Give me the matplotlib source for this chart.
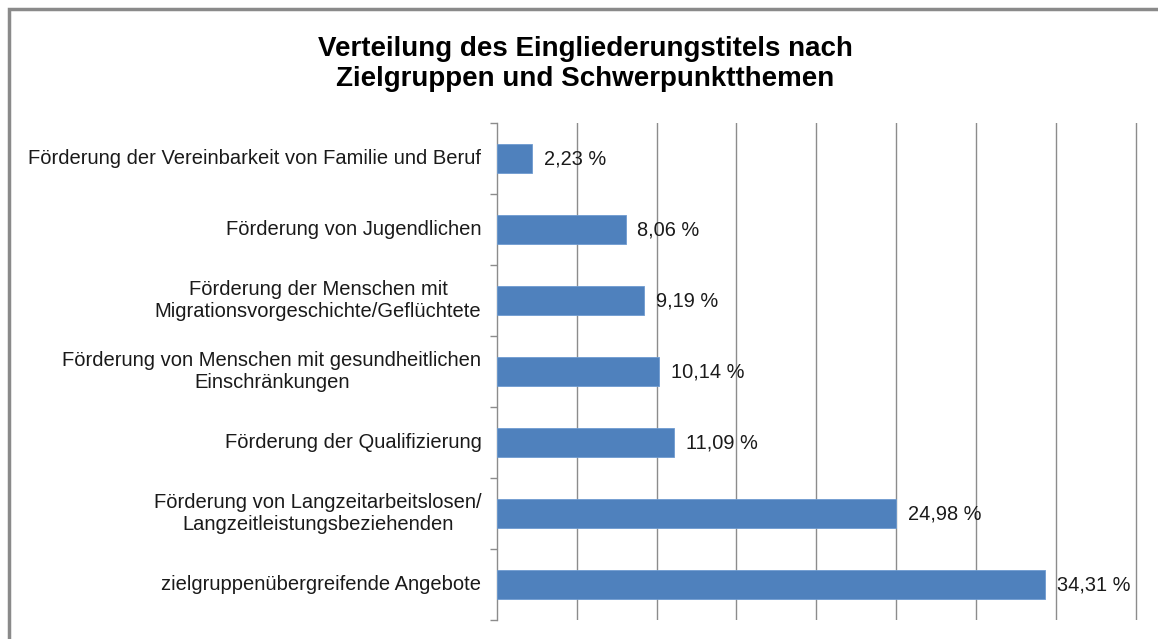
import matplotlib
matplotlib.use("Agg")
import matplotlib.pyplot as plt
import numpy as np
from matplotlib.patches import Rectangle

plt.rcParams['font.family'] = ['Liberation Sans', 'DejaVu Sans']

categories = [
    "Förderung der Vereinbarkeit von Familie und Beruf",
    "Förderung von Jugendlichen",
    "Förderung der Menschen mit\nMigrationsvorgeschichte/Geflüchtete",
    "Förderung von Menschen mit gesundheitlichen\nEinschränkungen",
    "Förderung der Qualifizierung",
    "Förderung von Langzeitarbeitslosen/\nLangzeitleistungsbeziehenden",
    "zielgruppenübergreifende Angebote",
]
values = [2.23, 8.06, 9.19, 10.14, 11.09, 24.98, 34.31]
title = "Verteilung des Eingliederungstitels nach\nZielgruppen und Schwerpunktthemen"

bar_color = "#4F81BD"
grid_color = "#8C8C8C"

fig = plt.figure(figsize=(11.58, 6.39), dpi=100)
# axis from x=496.6 to x=1137.6 px (0..40.1 %)
ax = fig.add_axes([0.4289, 0.0297, (1137.6 - 496.6) / 1158, 0.8075 - 0.0297])

# outer chart border (runs past right/bottom edge like the screenshot)
fig.patches.append(Rectangle((9 / 1158, -0.05), 1.2, 1 - 9 / 639 + 0.05,
                             transform=fig.transFigure, fill=False,
                             edgecolor="#8A8A8A", linewidth=2.5))

y = np.arange(len(categories))
ax.barh(y, values, height=0.4, color=bar_color, edgecolor="#6E9BD0", linewidth=0.6, zorder=3)
ax.set_ylim(len(categories) - 0.5, -0.5)
ax.set_xlim(0, 40.1)

for yi, v in zip(y, values):
    ax.text(v + 0.75, yi, "{:.2f} %".format(v).replace(".", ","), va="center", ha="left",
            fontsize=14.4, color="#1a1a1a")

ax.set_xticks(np.arange(5, 41, 5))
ax.tick_params(axis="x", length=0, labelbottom=False)
ax.grid(axis="x", color=grid_color, linewidth=1.0, zorder=0)

ax.set_yticks(y)
ax.set_yticklabels([])
ax.set_yticks(np.arange(-0.5, len(categories)), minor=True)
ax.tick_params(axis="y", which="major", length=0)
ax.tick_params(axis="y", which="minor", length=5, color=grid_color, width=1.0)
for yi, c in zip(y, categories):
    ax.text(-0.95, yi, c, ha="right", va="center", multialignment="center",
            fontsize=14.5, color="#1a1a1a", linespacing=1.15)

for s in ["top", "right", "bottom"]:
    ax.spines[s].set_visible(False)
ax.spines["left"].set_color(grid_color)
ax.spines["left"].set_linewidth(1.0)

fig.text(585 / 1158, 1 - 64 / 639, title, ha="center", va="center", fontsize=20,
         fontweight="bold", linespacing=1.21)

fig.savefig("out.png", dpi=100)
